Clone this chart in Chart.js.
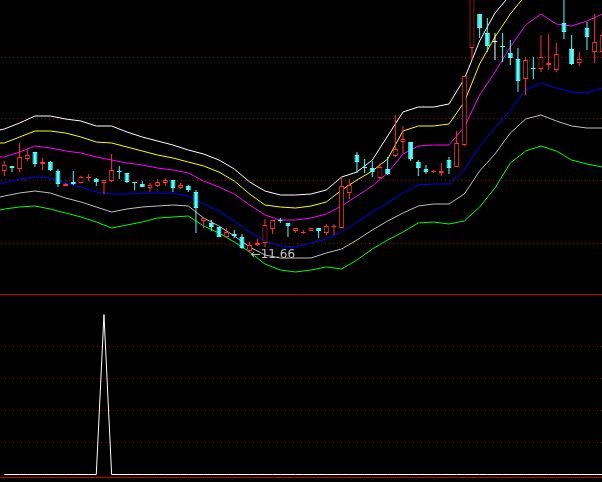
<!DOCTYPE html>
<html>
<head>
<meta charset="utf-8">
<script src="https://cdn.jsdelivr.net/npm/chart.js@4.4.0/dist/chart.umd.min.js"></script>
<style>
html, body { margin: 0; padding: 0; background: #000; overflow: hidden; }
#pricePane { position: absolute; left: 0; top: 0; width: 602px; height: 295px; }
#signalPane { position: absolute; left: 0; top: 295px; width: 602px; height: 182px; border-bottom: 1px solid #c00000; }
canvas { display: block; }
</style>
</head>
<body>
<div id="pricePane"><canvas id="priceChart" width="602" height="295"></canvas></div>
<div id="signalPane"><canvas id="signalChart" width="602" height="182"></canvas></div>
<script>
// daily candles, one per bar index 0..78
var opens  = [12.48,12.53,12.50,12.60,12.67,12.55,12.57,12.48,12.33,12.37,12.36,12.41,12.40,12.36,12.38,12.48,12.46,12.37,12.35,12.31,
              12.33,12.36,12.39,12.31,12.33,12.27,11.98,11.96,11.92,11.82,11.85,11.82,11.68,11.74,11.76,11.90,11.99,11.96,11.88,11.86,
              11.88,11.91,11.86,11.92,11.91,12.26,12.64,12.52,12.51,12.41,12.50,12.63,12.77,12.77,12.57,12.50,12.47,12.46,12.59,12.52,
              12.74,13.71,14.05,13.86,13.77,13.73,13.66,13.60,13.40,13.51,13.50,13.54,13.49,13.96,13.70,13.56,13.91,13.67,13.67];
var highs  = [12.58,12.53,12.76,12.69,12.67,12.61,12.58,12.50,12.36,12.48,12.43,12.45,12.41,12.39,12.65,12.53,12.46,12.37,12.38,12.36,
              12.40,12.41,12.39,12.36,12.34,12.29,12.01,11.99,11.92,11.91,11.89,11.85,11.77,11.80,12.00,11.99,12.01,11.96,11.91,11.89,
              11.91,11.91,11.95,11.95,12.42,12.40,12.67,12.60,12.58,12.56,12.62,13.04,12.93,12.77,12.59,12.54,12.49,12.56,12.62,12.88,
              13.43,14.34,14.05,14.01,13.86,13.86,13.79,13.71,13.62,13.62,13.84,13.85,13.76,14.22,13.84,13.67,13.97,14.05,13.89];
var lows   = [12.43,12.47,12.47,12.58,12.52,12.49,12.48,12.32,12.33,12.34,12.36,12.38,12.33,12.25,12.37,12.40,12.36,12.29,12.32,12.27,
              12.32,12.33,12.27,12.30,12.27,11.86,11.91,11.88,11.82,11.82,11.81,11.70,11.66,11.73,11.72,11.85,11.96,11.82,11.86,11.85,
              11.88,11.81,11.84,11.84,11.91,12.20,12.46,12.46,12.42,12.40,12.44,12.62,12.66,12.58,12.43,12.45,12.46,12.43,12.45,12.52,
              12.73,13.59,13.81,13.67,13.59,13.57,13.54,13.27,13.24,13.40,13.47,13.49,13.47,13.80,13.54,13.53,13.69,13.56,13.64];
var closes = [12.54,12.51,12.62,12.64,12.55,12.57,12.49,12.35,12.35,12.35,12.42,12.42,12.37,12.39,12.49,12.47,12.37,12.36,12.32,12.34,
              12.37,12.39,12.31,12.34,12.29,12.11,12.01,11.92,11.82,11.87,11.83,11.71,11.74,11.76,11.94,11.99,11.98,11.93,11.91,11.87,
              11.91,11.88,11.93,11.93,12.33,12.34,12.57,12.51,12.47,12.52,12.45,12.70,12.80,12.60,12.51,12.47,12.48,12.48,12.51,12.76,
              13.43,14.27,13.91,13.73,13.77,13.72,13.61,13.38,13.59,13.50,13.62,13.56,13.65,13.87,13.55,13.60,13.82,13.77,13.84];

// envelope lines, read at the left edge and then every second bar (bar index in bandIdx)
var bandIdx = [-0.56,0,2,4,6,8,10,12,14,16,18,20,22,24,26,28,30,32,34,36,38,40,42,44,46,48,50,52,54,56,58,60,62,64,66,68,70,72,74,76,78];
var whiteUpper = [12.89,12.90,12.96,13.03,13.03,13.00,12.98,12.93,12.93,12.87,12.82,12.78,12.74,12.69,12.65,12.59,12.50,12.37,12.28,12.24,12.24,
                  12.25,12.29,12.42,12.47,12.59,12.83,13.07,13.12,13.12,13.15,13.40,13.78,14.06,14.24,null,null,null,null,null,null];
var yellowLine = [12.76,12.76,12.82,12.88,12.88,12.86,12.82,12.77,12.76,12.72,12.68,12.64,12.61,12.57,12.53,12.47,12.38,12.25,12.14,12.12,12.11,
                  12.13,12.17,12.29,12.39,12.48,12.60,12.88,12.93,12.93,12.95,13.17,13.55,13.82,14.05,14.24,null,null,null,null,null];
var magentaLine = [12.62,12.62,12.67,12.73,12.71,12.68,12.66,12.62,12.59,12.56,12.54,12.51,12.49,12.46,12.38,12.32,12.25,12.14,12.04,11.99,11.99,
                   12.01,12.05,12.13,12.23,12.33,12.46,12.65,12.73,12.74,12.74,12.92,13.24,13.47,13.72,13.94,14.05,13.95,13.93,13.98,14.05];
var blueLine = [12.36,12.36,12.40,12.42,12.41,12.36,12.32,12.27,12.25,12.25,12.26,12.26,12.26,12.23,12.15,12.08,11.98,11.87,11.78,11.73,11.72,
                11.76,11.80,11.87,11.97,12.07,12.16,12.26,12.34,12.35,12.35,12.49,12.73,12.91,13.09,13.29,13.36,13.31,13.27,13.26,13.31];
var grayLine = [12.22,12.23,12.26,12.28,12.26,12.21,12.17,12.12,12.07,12.10,12.12,12.13,12.14,12.13,12.01,11.93,11.83,11.72,11.64,11.61,11.61,
                11.61,11.66,11.70,11.79,11.89,11.98,12.06,12.13,12.15,12.15,12.25,12.48,12.65,12.86,13.00,13.04,12.98,12.93,12.91,12.91];
var greenLower = [12.09,12.10,12.12,12.13,12.10,12.06,12.02,11.97,11.91,11.94,11.97,12.01,12.02,12.03,11.93,11.86,11.77,11.67,11.55,11.49,11.47,
                  11.49,11.52,11.50,11.59,11.70,11.79,11.87,11.96,11.97,11.95,11.98,12.12,12.31,12.56,12.68,12.73,12.68,12.59,12.55,12.52];

var priceGrid = [11.76, 12.38, 13.00, 13.62];

// lower pane signal
var signal = [0,0,0,0,0,0,0,0,0,0,0,0,0,5,0,0,0,0,0,0,
              0,0,0,0,0,0,0,0,0,0,0,0,0,0,0,0,0,0,0,0,
              0,0,0,0,0,0,0,0,0,0,0,0,0,0,0,0,0,0,0,0,
              0,0,0,0,0,0,0,0,0,0,0,0,0,0,0,0,0,0,0];
var signalGrid = [1, 2, 3, 4];

var UP = '#ff3232', DOWN = '#54fcfc', FLAT = '#ffffff';

function candleColor(i) {
    if (closes[i] > opens[i]) return UP;
    if (closes[i] < opens[i]) return DOWN;
    return FLAT;
}

function bandData(values) {
    var pts = [];
    for (var i = 0; i < bandIdx.length; i++) {
        if (values[i] !== null) pts.push({x: bandIdx[i], y: values[i]});
    }
    return pts;
}

function bandSet(values, color) {
    return {type: 'line', order: 2, data: bandData(values), borderColor: color, borderWidth: 1,
            pointRadius: 0, tension: 0, fill: false};
}

// dotted grid: one dark red pixel every 4px
function dotPattern() {
    var c = document.createElement('canvas');
    c.width = 4; c.height = 1;
    var g = c.getContext('2d');
    g.fillStyle = '#a00000';
    g.fillRect(1, 0, 1, 1);
    return g.createPattern(c, 'repeat');
}

function barAxis(withBorder) {
    return {
        type: 'linear', min: -0.56, max: 77.96, offset: false,
        grid: {display: false, drawTicks: false},
        ticks: {display: false},
        border: {display: withBorder, color: '#c00000', width: 1}
    };
}

var lowLabel = {
    id: 'lowLabel',
    afterDatasetsDraw: function(chart) {
        var i = lows.indexOf(Math.min.apply(null, lows));
        var ctx = chart.ctx;
        var x = chart.scales.x.getPixelForValue(i);
        var y = chart.scales.y.getPixelForValue(lows[i]);
        ctx.save();
        ctx.font = '12px "DejaVu Sans"';
        ctx.fillStyle = '#c0c0c0';
        ctx.textBaseline = 'middle';
        ctx.fillText('\u2190' + lows[i].toFixed(2), x + 1, y + 2);
        ctx.restore();
    }
};

function main() {
    var dots = dotPattern();
    var bodyFill = [], bodyEdge = [], wickColor = [];
    for (var i = 0; i < opens.length; i++) {
        var c = candleColor(i);
        bodyEdge.push(c);
        wickColor.push(c);
        bodyFill.push(c === UP ? '#000000' : c);
    }

    new Chart(document.getElementById('priceChart').getContext('2d'), {
        type: 'bar',
        data: {
            datasets: [
                {
                    order: 0, grouped: false,
                    data: opens.map(function(o, i) { return {x: i, y: [o, closes[i]]}; }),
                    backgroundColor: bodyFill, borderColor: bodyEdge, borderWidth: 1,
                    borderSkipped: false, barThickness: 5, minBarLength: 1, inflateAmount: 0
                },
                {
                    order: 1, grouped: false,
                    data: lows.map(function(l, i) { return {x: i, y: [l, highs[i]]}; }),
                    backgroundColor: wickColor, borderWidth: 0,
                    barThickness: 1, minBarLength: 1, inflateAmount: 0
                },
                bandSet(whiteUpper, '#ffffff'),
                bandSet(yellowLine, '#ffff00'),
                bandSet(magentaLine, '#ff00ff'),
                bandSet(blueLine, '#0000ff'),
                bandSet(grayLine, '#c0c0c0'),
                bandSet(greenLower, '#00ff00')
            ]
        },
        options: {
            responsive: false, animation: false, events: [],
            layout: {padding: {left: 0, right: 0, top: 0, bottom: 1}},
            plugins: {legend: {display: false}, tooltip: {enabled: false}},
            scales: {
                x: barAxis(true),
                y: {
                    min: 11.25, max: 14.19,
                    ticks: {display: false},
                    grid: {color: dots, drawTicks: false, lineWidth: 1},
                    border: {display: false},
                    afterBuildTicks: function(s) { s.ticks = priceGrid.map(function(v) { return {value: v}; }); }
                }
            }
        },
        plugins: [lowLabel]
    });

    new Chart(document.getElementById('signalChart').getContext('2d'), {
        type: 'bar',
        data: {
            datasets: [{
                type: 'line',
                data: signal.map(function(v, i) { return {x: i, y: v}; }),
                borderColor: '#ffffff', borderWidth: 1, pointRadius: 0, tension: 0, fill: false
            }]
        },
        options: {
            responsive: false, animation: false, events: [],
            layout: {padding: 0},
            plugins: {legend: {display: false}, tooltip: {enabled: false}},
            scales: {
                x: barAxis(false),
                y: {
                    min: -0.078125, max: 5.609375,
                    ticks: {display: false},
                    grid: {color: dots, drawTicks: false, lineWidth: 1},
                    border: {display: false},
                    afterBuildTicks: function(s) { s.ticks = signalGrid.map(function(v) { return {value: v}; }); }
                }
            }
        }
    });
}

document.addEventListener('DOMContentLoaded', function() {
    main();
});
</script>
</body>
</html>
